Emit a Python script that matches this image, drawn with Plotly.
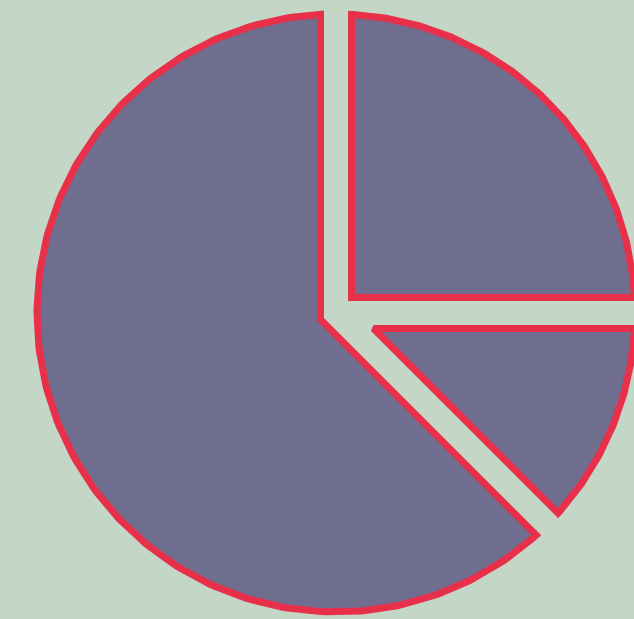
import numpy as np
import plotly.graph_objects as go

# Data
labels = ["A", "B", "C"]
values = [25, 12.5, 62.5]

# Layout / style (pixel frame of the 634x619 canvas)
W, H = 634, 619
CX, CY, R = 336, 313, 299   # pie centre and radius
GAP = 31                    # constant gap between slices
bg = "#c4d6c5"
fill = "#6f6e8e"
edge = "#e9304a"
lw = 7

fig = go.Figure()
total = float(sum(values))
cum = 0.0
for lab, v in zip(labels, values):
    a0 = cum / total * 2 * np.pi
    a1 = (cum + v) / total * 2 * np.pi
    cum += v
    m = (a0 + a1) / 2
    h = (a1 - a0) / 2
    d = (GAP / 2) / np.sin(h)
    ax = CX + d * np.sin(m)
    ay = CY - d * np.cos(m)

    def hit(a):
        ux, uy = np.sin(a), -np.cos(a)
        px, py = ax - CX, ay - CY
        b = px * ux + py * uy
        c = px * px + py * py - R * R
        t = -b + np.sqrt(b * b - c)
        return ax + t * ux, ay + t * uy

    p0 = hit(a0)
    p1 = hit(a1)
    phi0 = np.arctan2(p0[0] - CX, -(p0[1] - CY))
    phi1 = np.arctan2(p1[0] - CX, -(p1[1] - CY))
    while phi1 <= phi0:
        phi1 += 2 * np.pi
    phis = np.linspace(phi0, phi1, 240)
    arcx = list(CX + R * np.sin(phis))
    arcy = list(CY - R * np.cos(phis))
    # retrace first edge so the apex gets a proper join
    xs = [ax] + arcx + [ax, arcx[0]]
    ys = [ay] + arcy + [ay, arcy[0]]
    fig.add_trace(go.Scatter(
        x=xs, y=ys, mode="lines", fill="toself", fillcolor=fill,
        line=dict(color=edge, width=lw), name=lab,
        hoverinfo="skip", showlegend=False,
    ))

fig.update_layout(
    width=W, height=H, margin=dict(l=0, r=0, t=0, b=0),
    paper_bgcolor=bg, plot_bgcolor=bg, showlegend=False,
    xaxis=dict(range=[0, W], visible=False, fixedrange=True),
    yaxis=dict(range=[H, 0], visible=False, fixedrange=True),
)
post = (
    "document.body.style.margin='0';"
    "var s=document.createElement('style');"
    "s.innerHTML='.js-line{stroke-linejoin:miter !important;}';"
    "document.head.appendChild(s);"
)
fig.write_html("out.html", post_script=post, config={"displayModeBar": False})
